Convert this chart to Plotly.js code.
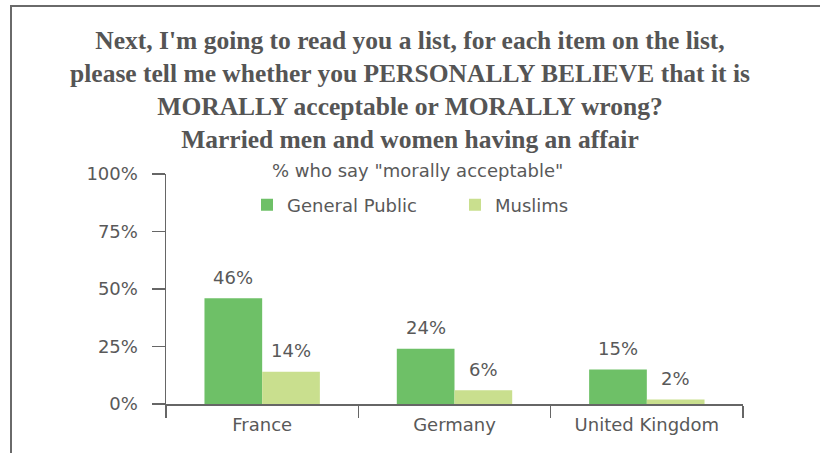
<!DOCTYPE html>
<html>
<head>
<meta charset="utf-8">
<script src="https://cdn.plot.ly/plotly-3.0.1.min.js"></script>
<style>html,body{margin:0;padding:0;background:#fff;} #wrap{position:relative;width:820px;height:453px;overflow:hidden;} #chart{width:820px;height:453px;} #frame{position:absolute;left:10px;top:5px;width:830px;height:470px;border-top:2px solid #6a6a6a;border-left:2px solid #6a6a6a;pointer-events:none;}</style>
</head>
<body>
<div id="wrap"><div id="chart"></div><div id="frame"></div></div>
<script>
const categories = ["France", "Germany", "United Kingdom"];
const generalPublic = [46, 24, 15];
const muslims = [14, 6, 2];
const seriesNames = ["General Public", "Muslims"];
const yTicks = [0, 25, 50, 75, 100];
const yTickLabels = ["0%", "25%", "50%", "75%", "100%"];

const titleText = "Next, I'm going to read you a list, for each item on the list,<br>please tell me whether you PERSONALLY BELIEVE that it is<br>MORALLY acceptable or MORALLY wrong?<br>Married men and women having an affair";
const subtitleText = '% who say "morally acceptable"';

const textColor = "#595959";
const axisColor = "#666666";
const sans = "DejaVu Sans, Liberation Sans, Arial, sans-serif";

const traces = [
  {type: "bar", name: seriesNames[0], x: categories, y: generalPublic, marker: {color: "#6ec067"}, hoverinfo: "none"},
  {type: "bar", name: seriesNames[1], x: categories, y: muslims, marker: {color: "#c9df8e"}, hoverinfo: "none"}
];

const W = 820, H = 453;
const L = 166, R = 77, T = 174, B = 49;
const pw = W - L - R, ph = H - T - B;
const px = v => (v - L) / pw;
const py = v => (H - B - v) / ph;

const annotations = [];
[generalPublic, muslims].forEach((arr, si) => {
  arr.forEach((v, i) => {
    annotations.push({
      x: categories[i], y: v, xref: "x", yref: "y",
      text: v + "%", showarrow: false,
      xshift: si === 0 ? -29 : 29, yshift: 21,
      font: {family: sans, size: 18, color: textColor}
    });
  });
});
annotations.push({
  x: px(417), y: py(170), xref: "paper", yref: "paper",
  text: subtitleText, showarrow: false, xanchor: "center", yanchor: "middle",
  font: {family: sans, size: 18, color: textColor}
});

const layout = {
  width: W, height: H,
  margin: {l: L, r: R, t: T, b: B},
  paper_bgcolor: "#fff", plot_bgcolor: "#fff",
  title: {
    text: titleText, x: 0.5, xanchor: "center", xref: "container",
    y: 1 - 49 / H, yanchor: "top", yref: "container",
    font: {family: "Liberation Serif, Times New Roman, serif", size: 25.5, color: "#555555", weight: "bold"}
  },
  barmode: "group", bargap: 0.4, bargroupgap: 0,
  showlegend: true,
  legend: {
    orientation: "h", x: px(247), xanchor: "left", y: py(205), yanchor: "middle",
    font: {family: sans, size: 18, color: textColor},
    entrywidth: 163, entrywidthmode: "pixels", itemwidth: 30,
    bgcolor: "rgba(0,0,0,0)"
  },
  xaxis: {
    type: "category", showgrid: false, zeroline: false,
    showline: true, linecolor: axisColor, linewidth: 1.5,
    ticks: "outside", tickson: "boundaries", ticklen: 12, tickwidth: 1.5, tickcolor: axisColor,
    ticklabelstandoff: 4,
    tickfont: {family: sans, size: 18, color: textColor}
  },
  yaxis: {
    range: [0, 100], showgrid: false, zeroline: false,
    showline: true, linecolor: axisColor, linewidth: 1.5,
    ticks: "outside", ticklen: 13, tickwidth: 1.5, tickcolor: axisColor,
    tickvals: yTicks, ticktext: yTickLabels, ticklabelstandoff: 10,
    tickfont: {family: sans, size: 18, color: textColor}
  },
  annotations: annotations
};

Plotly.newPlot("chart", traces, layout, {displayModeBar: false, staticPlot: true});
</script>
</body>
</html>
